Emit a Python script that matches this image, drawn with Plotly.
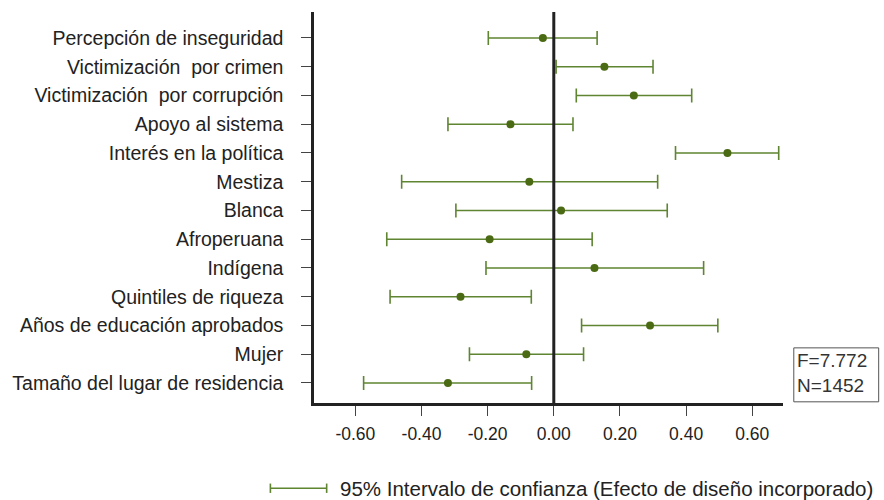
import plotly.graph_objects as go

# variables (top to bottom) and estimated coefficients with 95% CI
variables = [
    "Percepción de inseguridad",
    "Victimización  por crimen",
    "Victimización  por corrupción",
    "Apoyo al sistema",
    "Interés en la política",
    "Mestiza",
    "Blanca",
    "Afroperuana",
    "Indígena",
    "Quintiles de riqueza",
    "Años de educación aprobados",
    "Mujer",
    "Tamaño del lugar de residencia",
]
coef = [-0.033, 0.153, 0.242, -0.131, 0.525, -0.074, 0.022, -0.194, 0.123, -0.282, 0.291, -0.083, -0.320]
ci_low = [-0.198, 0.007, 0.068, -0.320, 0.368, -0.460, -0.296, -0.505, -0.205, -0.495, 0.084, -0.255, -0.575]
ci_high = [0.131, 0.300, 0.417, 0.058, 0.680, 0.314, 0.343, 0.116, 0.453, -0.068, 0.496, 0.090, -0.067]

x_ticks = [-0.6, -0.4, -0.2, 0.0, 0.2, 0.4, 0.6]
x_labels = ["-0.60", "-0.40", "-0.20", "0.00", "0.20", "0.40", "0.60"]
stats_text = "F=7.772<br>N=1452"
legend_text = "95% Intervalo de confianza (Efecto de diseño incorporado)"

line_green = "#5f8532"
dot_green = "#4b6a14"
dark = "#222222"
font_family = "Liberation Sans, Arial, sans-serif"

rows = list(range(len(variables)))
err_plus = [h - c for h, c in zip(ci_high, coef)]
err_minus = [c - l for c, l in zip(coef, ci_low)]

fig = go.Figure()

fig.add_trace(go.Scatter(
    x=coef, y=rows,
    mode="markers",
    marker=dict(color=dot_green, size=8),
    error_x=dict(type="data", array=err_plus, arrayminus=err_minus,
                 color=line_green, thickness=1.6, width=7),
    showlegend=False,
    hoverinfo="skip",
))

# vertical reference line at zero
fig.add_shape(type="line", x0=0, x1=0, xref="x", y0=0, y1=1, yref="paper",
              line=dict(color=dark, width=3), layer="above")

# F / N box
fig.add_shape(type="rect", xref="paper", yref="paper",
              x0=1.023, x1=1.204, y0=0.003, y1=0.141,
              line=dict(color="#555555", width=1), fillcolor="white")
fig.add_annotation(text=stats_text, xref="paper", yref="paper",
                   x=1.026, y=0.078, xanchor="left", yanchor="middle",
                   showarrow=False, align="left",
                   font=dict(family=font_family, size=19, color="#333333"))

# legend glyph drawn below the chart
lx0, lx1, ly = -0.093, 0.027, -0.218
fig.add_shape(type="line", xref="paper", yref="paper", x0=lx0, x1=lx1, y0=ly, y1=ly,
              line=dict(color=line_green, width=1.6))
for xx in (lx0, lx1):
    fig.add_shape(type="line", xref="paper", yref="paper", x0=xx, x1=xx,
                  y0=ly - 0.012, y1=ly + 0.012, line=dict(color=line_green, width=1.6))
fig.add_annotation(text=legend_text, xref="paper", yref="paper",
                   x=0.051, y=ly, xanchor="left", yanchor="middle", showarrow=False,
                   font=dict(family=font_family, size=20.5, color="#222222"))

fig.update_xaxes(
    range=[-0.725, 0.693],
    tickvals=x_ticks, ticktext=x_labels,
    showgrid=False, zeroline=False,
    showline=True, linecolor=dark, linewidth=2.5,
    ticks="outside", ticklen=10, tickcolor="#444444", tickwidth=1,
    tickfont=dict(family=font_family, size=17.5, color="#222222"),
    ticklabelstandoff=3,
)
fig.update_yaxes(
    range=[12.696, -0.904],
    tickvals=rows, ticktext=variables,
    showgrid=False, zeroline=False,
    showline=True, linecolor=dark, linewidth=2.5,
    ticks="outside", ticklen=10, tickcolor="#444444", tickwidth=1,
    tickfont=dict(family=font_family, size=19.5, color="#222222"),
    ticklabelstandoff=14,
)

fig.update_layout(
    width=884, height=500,
    margin=dict(l=308, r=101, t=12, b=97),
    plot_bgcolor="white", paper_bgcolor="white",
    font=dict(family=font_family),
)

# drop the browser's default body margin so the figure sits at the page corner
fig.write_html("out.html", config={"displayModeBar": False},
               post_script="document.body.style.margin='0';")
